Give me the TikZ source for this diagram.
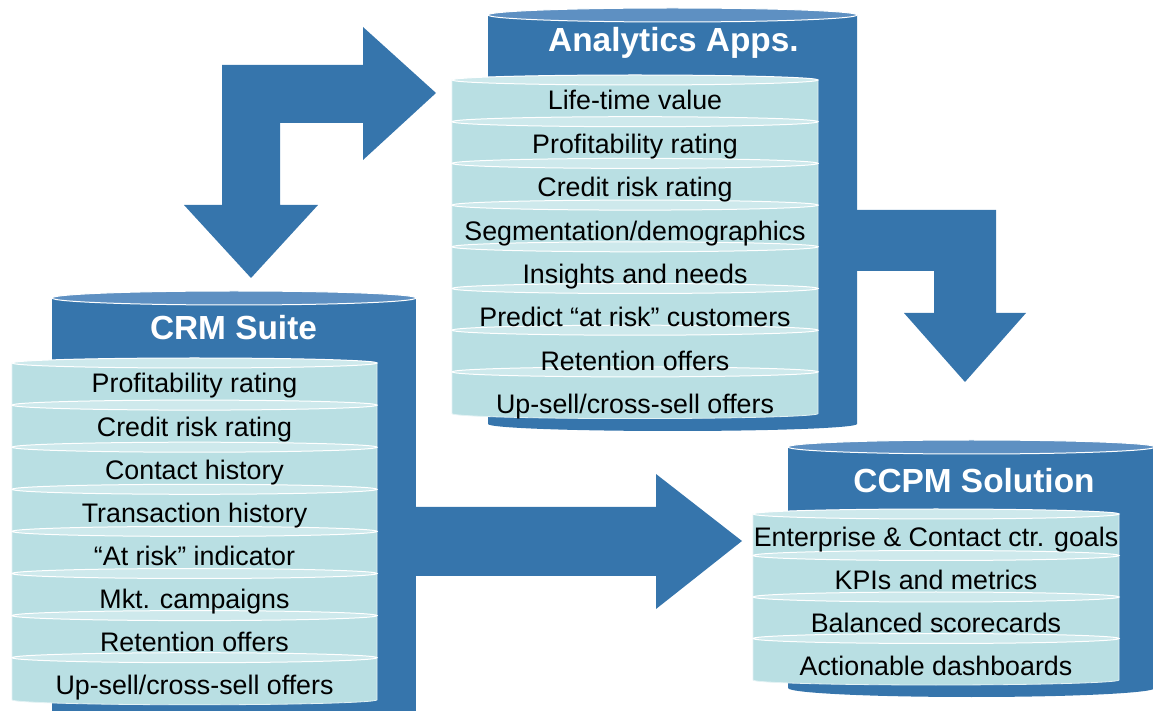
\documentclass[tikz,border=0pt]{standalone}
\usepackage{fontspec}
\setmainfont{Liberation Sans}
\definecolor{cylblue}{RGB}{54,117,172}
\definecolor{cyllight}{RGB}{94,144,194}
\definecolor{diskcyan}{RGB}{185,223,227}
\definecolor{disklight}{RGB}{206,233,236}
\tikzset{
  cylbody/.style={fill=cylblue},
  cyltop/.style={fill=cyllight,draw=white,line width=0.5pt},
  diskbody/.style={fill=diskcyan,draw=white!60!diskcyan,line width=0.4pt},
  disktop/.style={fill=disklight,draw=white,line width=0.5pt},
  bigarrow/.style={fill=cylblue},
  itemtext/.style={anchor=base,inner sep=0pt,font=\fontsize{13.4}{16}\selectfont},
  titletext/.style={anchor=base,inner sep=0pt,text=white,font=\fontsize{16.7}{20}\selectfont\bfseries}
}

\begin{document}
\begin{tikzpicture}[x=0.5pt,y=-0.5pt]
  \useasboundingbox (0,0) rectangle (1153,711);

  \fill[bigarrow] (251,278) -- (318,205) -- (280,205) -- (280,123) -- (363,123)
  -- (363,160) -- (436,93) -- (363,27) -- (363,65) -- (222,65) -- (222,205)
  -- (184,205) -- cycle;
  \fill[bigarrow] (850,210) -- (996,210) -- (996,313) -- (1026,313) -- (965,382)
  -- (904,313) -- (934,313) -- (934,271) -- (850,271) -- cycle;
  \fill[bigarrow] (410,507) -- (656,507) -- (656,474) -- (742,541) -- (656,609)
  -- (656,576) -- (410,576) -- cycle;

  \fill[cylbody] (488,15) -- (488,424)
  arc[start angle=180,end angle=0,x radius=184.5,y radius=7] -- (857,15) -- cycle;
  \filldraw[cyltop] (672.5,15) ellipse[x radius=184.5,y radius=7];
  \node[titletext] (antitle) at (673.5,52) {Analytics Apps.};

  \fill[cylbody] (52,298) -- (52,730) -- (416,730) -- (416,298) -- cycle;
  \filldraw[cyltop] (234,298) ellipse[x radius=182,y radius=7];
  \node[titletext] (crmtitle) at (233.5,340) {CRM Suite};

  \fill[cylbody] (788,447) -- (788,688)
  arc[start angle=180,end angle=0,x radius=183.5,y radius=9] -- (1155,447) -- cycle;
  \filldraw[cyltop] (971.5,447) ellipse[x radius=183.5,y radius=7];
  \node[titletext] (cctitle) at (974,493) {CCPM Solution};

  \foreach \i in {0,...,7}{
    \pgfmathsetmacro\yt{80+41.7*\i}
    \filldraw[diskbody] (452,\yt) -- (452,{\yt+41.7})
    arc[start angle=180,end angle=0,x radius=183,y radius=5] -- (818,\yt) -- cycle;
    \filldraw[disktop] (635,\yt) ellipse[x radius=183,y radius=5];
  }
  \foreach \txt [count=\i from 0] in {Life-time value,Profitability rating,
    Credit risk rating,Segmentation/demographics,Insights and needs,
    Predict “at risk” customers,Retention offers,Up-sell/cross-sell offers}
    \node[itemtext] (an\i) at (635,{110+43.4*\i}) {\txt};

  \foreach \i in {0,...,7}{
    \pgfmathsetmacro\yt{363+42.1*\i}
    \filldraw[diskbody] (12,\yt) -- (12,{\yt+42.1})
    arc[start angle=180,end angle=0,x radius=182.5,y radius=5] -- (377,\yt) -- cycle;
    \filldraw[disktop] (194.5,\yt) ellipse[x radius=182.5,y radius=5];
  }
  \foreach \txt [count=\i from 0] in {Profitability rating,Credit risk rating,
    Contact history,Transaction history,“At risk” indicator,Mkt. campaigns,
    Retention offers,Up-sell/cross-sell offers}
    \node[itemtext] (crm\i) at (194.5,{393+43.1*\i}) {\txt};

  \foreach \i in {0,...,3}{
    \pgfmathsetmacro\yt{514+41.5*\i}
    \filldraw[diskbody] (753,\yt) -- (753,{\yt+41.5})
    arc[start angle=180,end angle=0,x radius=183,y radius=5] -- (1119,\yt) -- cycle;
    \filldraw[disktop] (936,\yt) ellipse[x radius=183,y radius=5];
  }
  \foreach \txt [count=\i from 0] in {Enterprise \& Contact ctr. goals,
    KPIs and metrics,Balanced scorecards,Actionable dashboards}
    \node[itemtext] (cc\i) at (936,{546.7+42.8*\i}) {\txt};
\end{tikzpicture}
\end{document}
